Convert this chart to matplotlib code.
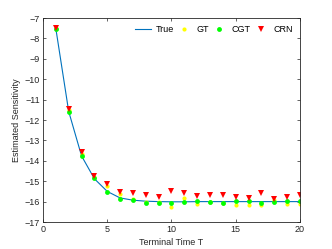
import numpy as np
import matplotlib
matplotlib.use('Agg')
import matplotlib.pyplot as plt

plt.rcParams['font.family'] = ['Liberation Sans', 'DejaVu Sans']

# Datos
T = np.arange(1, 21)
true_vals = [-7.52, -11.58, -13.76, -14.88, -15.50, -15.82, -15.93, -15.98, -16.00, -16.01,
             -16.01, -16.00, -16.00, -16.00, -16.00, -16.00, -16.00, -16.00, -16.00, -16.00]
gt_vals = [-7.50, -11.53, -13.68, -14.80, -15.25, -15.65, -15.85, -16.00, -16.03, -16.25,
           -15.84, -16.10, -16.02, -16.05, -16.15, -16.15, -16.15, -15.92, -16.10, -16.10]
cgt_vals = [-7.55, -11.60, -13.76, -14.86, -15.52, -15.85, -15.92, -16.06, -16.06, -16.06,
            -16.02, -15.95, -16.02, -16.08, -15.98, -15.98, -16.05, -16.00, -15.98, -15.98]
crn_vals = [-7.48, -11.48, -13.58, -14.74, -15.16, -15.54, -15.56, -15.68, -15.78, -15.50,
            -15.60, -15.72, -15.70, -15.70, -15.75, -15.80, -15.60, -15.87, -15.79, -15.66]

fig = plt.figure(figsize=(3.32, 2.49), dpi=100)
ax = fig.add_axes([0.1295, 0.1084, 0.7741, 0.8193])

ax.plot(T, true_vals, color='#0072BD', linewidth=0.8, label='True')
ax.plot(T, gt_vals, 'o', color='#FFFF00', markersize=3, markeredgewidth=0, label='GT')
ax.plot(T, cgt_vals, 'o', color='#00FF00', markersize=3.5, markeredgewidth=0, label='CGT')
ax.plot(T, crn_vals, 'v', color='#FF0000', markersize=4, markeredgewidth=0, label='CRN')

ax.set_xlim(0, 20)
ax.set_ylim(-17, -7)
ax.set_xticks([0, 5, 10, 15, 20])
ax.set_yticks(np.arange(-17, -6, 1))
ax.tick_params(direction='in', top=True, right=True, labelsize=6.5, length=2.5,
               width=0.5, colors='#262626', pad=2)
for s in ax.spines.values():
    s.set_linewidth(0.6)
    s.set_color('#262626')

ax.set_xlabel('Terminal Time T', fontsize=6.5, color='#262626', labelpad=3)
ax.set_ylabel('Estimated Sensitivity', fontsize=6.5, color='#262626', labelpad=3)

ax.legend(loc='upper right', ncol=4, frameon=False, fontsize=6.5, handlelength=1.8,
          columnspacing=0.2, handletextpad=0.5, borderaxespad=0.4)

fig.savefig('out.png', dpi=100)
